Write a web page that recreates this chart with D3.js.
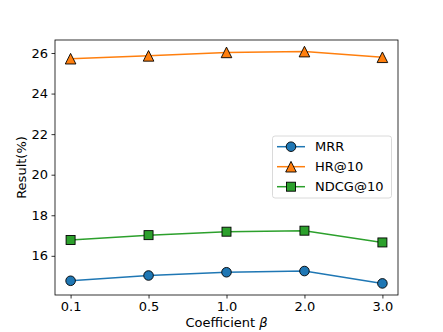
<!DOCTYPE html>
<html><head><meta charset="utf-8">
<script src="https://cdn.jsdelivr.net/npm/d3@7"></script>
<style>body{margin:0;background:#fff}svg{display:block;font-family:"DejaVu Sans",sans-serif}</style>
</head><body><svg id="c" width="443" height="332"></svg>
<script>
const categories = ["0.1","0.5","1.0","2.0","3.0"];
const mrr = [14.77, 15.03, 15.19, 15.25, 14.64];
const hr10 = [25.72, 25.86, 26.03, 26.07, 25.79];
const ndcg10 = [16.78, 17.02, 17.19, 17.24, 16.66];
const yTicks = [16, 18, 20, 22, 24, 26];
const seriesNames = ["MRR", "HR@10", "NDCG@10"];

const series = [
  {name: seriesNames[0], values: mrr, color: "#1f77b4", shape: "circle"},
  {name: seriesNames[1], values: hr10, color: "#ff7f0e", shape: "triangle"},
  {name: seriesNames[2], values: ndcg10, color: "#2ca02c", shape: "square"}
];

const svg = d3.select("#c");
const L = 55, R = 398, T = 40, B = 295;
const x = d3.scalePoint().domain(categories).range([L, R]).padding(0.2);
const all = [].concat(mrr, hr10, ndcg10);
const mn = d3.min(all), mx = d3.max(all), m = (mx - mn) * 0.05;
const y = d3.scaleLinear().domain([mn - m, mx + m]).range([B, T]);

const fs = 13;
const xa = svg.append("g").attr("transform", `translate(0,${B})`)
  .call(d3.axisBottom(x).tickSize(3.5).tickPadding(3.5));
const ya = svg.append("g").attr("transform", `translate(${L},0)`)
  .call(d3.axisLeft(y).tickValues(yTicks).tickFormat(d3.format("d")).tickSize(3.5).tickPadding(3.5));
[xa, ya].forEach(a => {
  a.select(".domain").remove();
  a.selectAll("text").attr("font-size", fs).attr("fill", "#000").attr("font-family", "DejaVu Sans");
  a.selectAll("line").attr("stroke", "#000").attr("stroke-width", 0.8);
});

svg.append("rect").attr("x", L).attr("y", T).attr("width", R - L).attr("height", B - T)
  .attr("fill", "none").attr("stroke", "#000").attr("stroke-width", 0.8);

svg.append("text").attr("x", (L + R) / 2).attr("y", 327).attr("text-anchor", "middle")
  .attr("font-size", fs).html('Coefficient <tspan font-style="italic">β</tspan>');
svg.append("text").attr("transform", `translate(25.5,${(T + B) / 2}) rotate(-90)`)
  .attr("text-anchor", "middle").attr("font-size", fs).text("Result(%)");

function marker(g, shape, cx, cy, color) {
  if (shape === "circle") {
    g.append("circle").attr("cx", cx).attr("cy", cy).attr("r", 4.8)
      .attr("fill", color).attr("stroke", "#000").attr("stroke-width", 0.9);
  } else if (shape === "square") {
    g.append("rect").attr("x", cx - 4.5).attr("y", cy - 4.5).attr("width", 9).attr("height", 9)
      .attr("fill", color).attr("stroke", "#000").attr("stroke-width", 0.9);
  } else {
    const s = 5.3;
    g.append("path").attr("d", `M${cx},${cy - s}L${cx + s},${cy + s}L${cx - s},${cy + s}Z`)
      .attr("fill", color).attr("stroke", "#000").attr("stroke-width", 0.9);
  }
}

const line = d3.line().x((d, i) => x(categories[i])).y(d => y(d));
series.forEach(s => {
  const g = svg.append("g");
  g.append("path").attr("d", line(s.values)).attr("fill", "none")
    .attr("stroke", s.color).attr("stroke-width", 1.5);
  s.values.forEach((v, i) => marker(g, s.shape, x(categories[i]), y(v), s.color));
});

// legend
const lg = svg.append("g");
lg.append("rect").attr("x", 272.5).attr("y", 136).attr("width", 119).attr("height", 62)
  .attr("rx", 2.5).attr("fill", "#fff").attr("fill-opacity", 0.8).attr("stroke", "#d0d0d0").attr("stroke-width", 0.8);
series.forEach((s, i) => {
  const cy = 146.7 + i * 20;
  lg.append("line").attr("x1", 277).attr("x2", 305).attr("y1", cy).attr("y2", cy)
    .attr("stroke", s.color).attr("stroke-width", 1.5);
  marker(lg, s.shape, 291, cy, s.color);
  lg.append("text").attr("x", 315).attr("y", cy).attr("dy", "0.36em").attr("font-size", fs).text(s.name);
});
</script></body></html>
